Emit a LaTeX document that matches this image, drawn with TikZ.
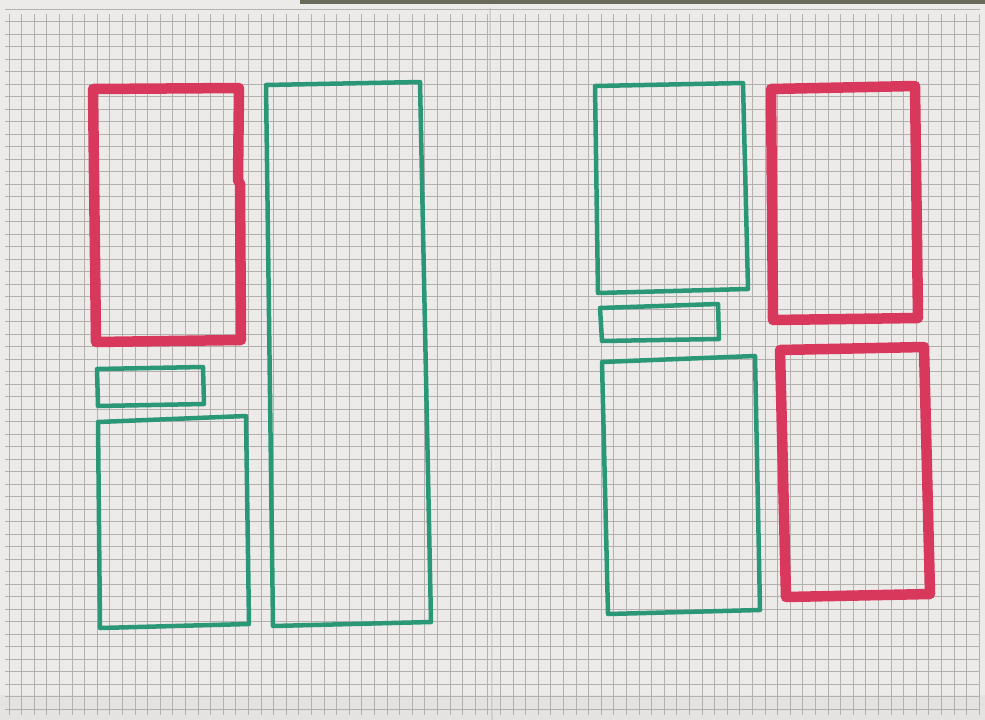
\documentclass[tikz,border=0pt]{standalone}
\usetikzlibrary{calc}
\definecolor{paper}{HTML}{EDEBE9}
\definecolor{gridc}{HTML}{B4B0AE}
\definecolor{redpen}{HTML}{D8385C}
\definecolor{greenpen}{HTML}{2A9777}
\definecolor{topband}{HTML}{6A6A58}
\tikzset{
  redbox/.style={draw=redpen, line width=10.5pt, line join=round, line cap=round},
  greenbox/.style={draw=greenpen, line width=4.5pt, line join=round, line cap=round},
  gridline/.style={draw=gridc, line width=0.7pt},
}
\begin{document}
\begin{tikzpicture}[x=1pt,y=-1pt]
\useasboundingbox (0,0) rectangle (985,720);
% paper
\fill[paper] (0,0) rectangle (985,720);
\fill[topband] (300,0) rectangle (985,4);
\fill[paper!93!gray] (0,695) rectangle (985,720);
% grid
\foreach \i in {0,...,78} {
  \draw[gridline] ({9.0+\i*12.6},14) -- ({9.0+\i*12.6},715);
}
\foreach \j in {0,...,56} {
  \draw[gridline] (5,{9.3+\j*12.5}) -- (980,{9.3+\j*12.5});
}
% page fold
\draw[gray!50, line width=1pt] (490,8) -- (492,720);
% left red
\draw[redbox] (93,89) -- (239,88) -- (238,180) -- (240,184) -- (241,340) -- (96,342) -- cycle;
% left small green
\draw[greenbox] (97,369) -- (203,367) -- (204,404) -- (98,406) -- cycle;
% left lower green
\draw[greenbox] (98,422) -- (246,416) -- (249,624) -- (100,628) -- cycle;
% tall green
\draw[greenbox] (266,85) -- (420,82) -- (431,622) -- (273,626) -- cycle;
% right top green
\draw[greenbox] (595,86) -- (743,83) -- (748,289) -- (598,293) -- cycle;
% right small green
\draw[greenbox] (600,308) -- (718,304) -- (719,339) -- (602,341) -- cycle;
% right lower green
\draw[greenbox] (602,362) -- (755,356) -- (760,610) -- (608,614) -- cycle;
% right red top
\draw[redbox] (771,89) -- (915,86) -- (918,318) -- (773,320) -- cycle;
% right red bottom
\draw[redbox] (780,350) -- (924,347) -- (930,594) -- (786,597) -- cycle;
\end{tikzpicture}
\end{document}
